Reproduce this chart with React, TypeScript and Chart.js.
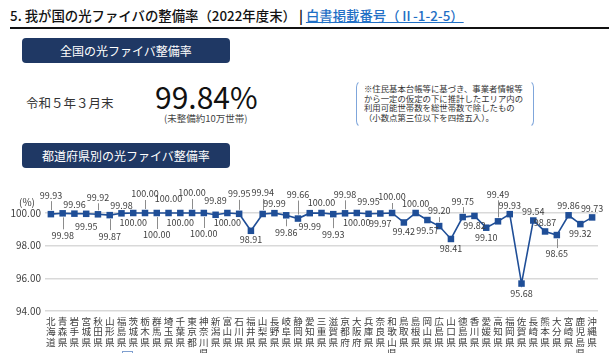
import React, { useEffect, useRef } from "react";
import { Chart, registerables } from "chart.js";

Chart.register(...registerables);

const prefectures = [
  "北海道", "青森県", "岩手県", "宮城県", "秋田県", "山形県", "福島県", "茨城県", "栃木県", "群馬県",
  "埼玉県", "千葉県", "東京都", "神奈川県", "新潟県", "富山県", "石川県", "福井県", "山梨県", "長野県",
  "岐阜県", "静岡県", "愛知県", "三重県", "滋賀県", "京都府", "大阪府", "兵庫県", "奈良県", "和歌山県",
  "鳥取県", "島根県", "岡山県", "広島県", "山口県", "徳島県", "香川県", "愛媛県", "高知県", "福岡県",
  "佐賀県", "長崎県", "熊本県", "大分県", "宮崎県", "鹿児島県", "沖縄県",
];

const rates = [
  99.93, 99.98, 99.96, 99.95, 99.92, 99.87, 99.98, 100.0, 100.0, 100.0,
  100.0, 100.0, 100.0, 100.0, 99.89, 100.0, 99.95, 98.91, 99.94, 99.99,
  99.86, 99.66, 99.99, 100.0, 99.93, 99.98, 100.0, 99.95, 99.97, 100.0,
  99.42, 100.0, 99.57, 99.2, 98.41, 99.75, 99.82, 99.1, 99.49, 99.93,
  95.68, 99.54, 98.87, 98.65, 99.86, 99.32, 99.73,
];

const yTicks = [94, 96, 98, 100];

// label placement (px from point; negative = above)
const labelOffsets = [
  -19, 22, -9, 13, -17, 21, -8, 10, -19, 22,
  -14, 10, -20, 21, -14, 10, -20, 9, -21, -10,
  17, -24, 13, -10, 20, -19, 10, -12, 10, -16,
  9, -9, 11, -15, 10, -16, 10, 10, -27, -9,
  10, -9, -9, 19, -10, 9, -9,
];

const FONT = '"Noto Sans CJK JP", "Noto Sans", sans-serif';
const LINE = "#1f4e97";

const labelPlugin = {
  id: "pointLabels",
  afterDatasetsDraw(chart: any) {
    const ctx = chart.ctx;
    const meta = chart.getDatasetMeta(0);
    ctx.save();
    ctx.font = `9px ${FONT}`;
    ctx.fillStyle = "#404040";
    ctx.textAlign = "center";
    ctx.textBaseline = "middle";
    meta.data.forEach((pt: any, i: number) => {
      const off = labelOffsets[i];
      const ty = pt.y + off;
      ctx.fillText(rates[i].toFixed(2), pt.x, ty);
      if (Math.abs(off) >= 15) {
        const dir = off < 0 ? -1 : 1;
        ctx.strokeStyle = "#8c8c8c";
        ctx.lineWidth = 1;
        ctx.beginPath();
        ctx.moveTo(Math.round(pt.x) + 0.5, pt.y + dir * 4);
        ctx.lineTo(Math.round(pt.x) + 0.5, ty - dir * 6);
        ctx.stroke();
      }
    });
    ctx.font = `10px ${FONT}`;
    ctx.fillText("(%)", 27, chart.chartArea.top - 11);
    ctx.restore();
  },
};

function LineChart() {
  const ref = useRef<HTMLCanvasElement | null>(null);
  useEffect(() => {
    if (!ref.current) return;
    const chart = new Chart(ref.current, {
      type: "line",
      data: {
        labels: prefectures,
        datasets: [
          {
            data: rates,
            borderColor: LINE,
            backgroundColor: LINE,
            borderWidth: 1.6,
            pointStyle: "rect",
            pointRadius: 4.6,
            pointBackgroundColor: LINE,
            pointBorderWidth: 0,
            tension: 0,
            clip: false as any,
          },
        ],
      },
      options: {
        responsive: false,
        animation: false,
        devicePixelRatio: 1,
        layout: { padding: { top: 43, right: 11, left: 0, bottom: 0 } },
        plugins: { legend: { display: false }, tooltip: { enabled: false } },
        scales: {
          x: {
            type: "category",
            offset: true,
            grid: { display: false, drawTicks: false },
            border: { display: false },
            ticks: {
              autoSkip: false,
              maxRotation: 0,
              minRotation: 0,
              padding: 5,
              color: "#404040",
              font: { family: FONT, size: 9.6, lineHeight: 1.1 },
              callback: (_v: any, i: number) => prefectures[i].split(""),
            },
            afterFit: (s: any) => {
              s.height = 42;
            },
          },
          y: {
            min: yTicks[0],
            max: yTicks[yTicks.length - 1],
            afterBuildTicks: (s: any) => {
              s.ticks = yTicks.map((v) => ({ value: v }));
            },
            grid: { color: "#d9d9d9", lineWidth: 1.5, drawTicks: false },
            border: { display: false },
            ticks: {
              padding: 4,
              color: "#404040",
              font: { family: FONT, size: 10 },
              callback: (v: any) => Number(v).toFixed(2),
            },
            afterFit: (s: any) => {
              s.width = 45;
            },
          },
        },
      },
      plugins: [labelPlugin],
    });
    return () => chart.destroy();
  }, []);
  return (
    <canvas
      ref={ref}
      width={609}
      height={183}
      style={{ position: "absolute", left: 0, top: 170, width: 609, height: 183 }}
    />
  );
}

const navyBox: React.CSSProperties = {
  position: "absolute",
  left: 22,
  width: 208,
  height: 25,
  background: "#1f3864",
  borderRadius: 4,
  color: "#fff",
  fontSize: 12,
  lineHeight: "25px",
  textAlign: "center",
  whiteSpace: "nowrap",
};

export default function App() {
  return (
    <div
      style={{
        position: "absolute",
        left: 0,
        top: 0,
        width: 609,
        height: 353,
        overflow: "hidden",
        background: "#fff",
        fontFamily: FONT,
        color: "#222",
      }}
    >
      <div
        style={{
          position: "absolute",
          left: 10,
          top: 6,
          fontSize: 13.4,
          lineHeight: "18px",
          whiteSpace: "nowrap",
          color: "#111",
          fontWeight: 500,
        }}
      >
        5. 我が国の光ファイバの整備率（2022年度末）
        <b style={{ margin: "0 3px" }}>|</b>
        <a style={{ color: "#1f6fc5", textDecoration: "underline" }}>白書掲載番号（Ⅱ-1-2-5）</a>
      </div>
      <div style={{ position: "absolute", left: 10, top: 27, width: 599, height: 1.5, background: "#111" }} />

      <div style={{ ...navyBox, top: 38 }}>全国の光ファイバ整備率</div>

      <div style={{ position: "absolute", left: 26, top: 95, fontSize: 12.5, lineHeight: "16px", color: "#333" }}>
        令和５年３月末
      </div>
      <div style={{ position: "absolute", left: 155, top: 78, fontSize: 30, lineHeight: "36px", color: "#111" }}>
        99.84%
      </div>
      <div style={{ position: "absolute", left: 164, top: 112, fontSize: 9.5, lineHeight: "12px", color: "#444" }}>
        (未整備約10万世帯)
      </div>

      <div
        style={{
          position: "absolute",
          left: 356,
          top: 80,
          width: 176,
          height: 46,
          border: "1.5px solid #7fa6db",
          borderTopColor: "transparent",
          borderBottomColor: "transparent",
          borderRadius: 7,
        }}
      />
      <div
        style={{
          position: "absolute",
          left: 364,
          top: 84,
          fontSize: 8.4,
          lineHeight: "9.6px",
          color: "#333",
          whiteSpace: "nowrap",
        }}
      >
        ※住民基本台帳等に基づき、事業者情報等
        <br />
        から一定の仮定の下に推計したエリア内の
        <br />
        利用可能世帯数を総世帯数で除したもの
        <br />
        （小数点第三位以下を四捨五入）。
      </div>

      <div style={{ ...navyBox, top: 143 }}>都道府県別の光ファイバ整備率</div>

      <LineChart />

      <div
        style={{
          position: "absolute",
          left: 122,
          top: 351,
          width: 9,
          height: 9,
          border: "1px solid #7f9fcf",
          background: "#fff",
        }}
      />
    </div>
  );
}
